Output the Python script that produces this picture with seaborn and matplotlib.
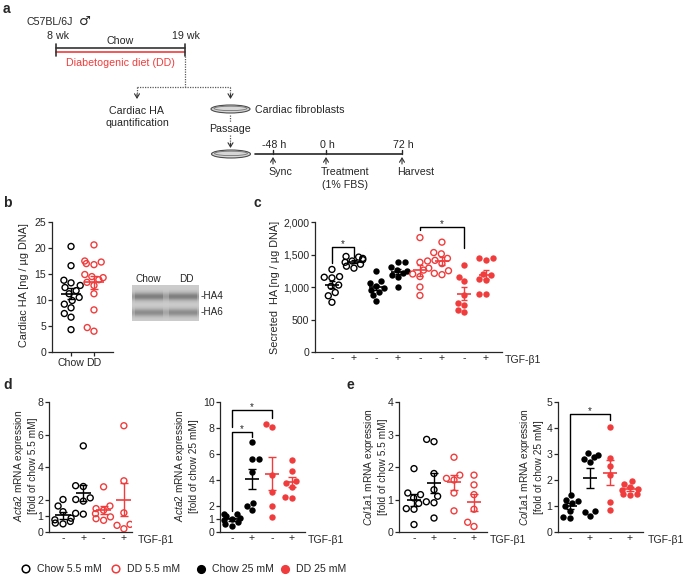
import matplotlib

matplotlib.use("Agg")
import matplotlib.pyplot as plt
import numpy as np
import pandas as pd
import seaborn as sns
from matplotlib.patches import Ellipse
from matplotlib.ticker import StrMethodFormatter

W, H = 685, 576
RED = "#f03c3c"

# b: cardiac HA content [ng / ug DNA]
HA_CHOW = [20.3, 16.6, 13.8, 13.3, 12.8, 12.4, 11.8, 11.2, 10.5, 9.9, 9.2, 8.5, 7.4, 6.7, 4.3]
HA_DD = [20.6, 17.5, 17.3, 17.0, 16.8, 14.9, 14.5, 14.3, 13.9, 13.4, 12.8, 11.2, 8.1, 4.7, 4.0]
HA_LABELS = ["Chow", "DD"]

# c: secreted HA [ng / ug DNA], order: chow 5.5 -/+, chow 25 -/+, DD 5.5 -/+, DD 25 -/+
SEC_CHOW55_CTRL = [1270, 1160, 1150, 1140, 1030, 1010, 915, 865, 765]
SEC_CHOW55_TGF = [1470, 1460, 1440, 1420, 1400, 1380, 1350, 1320, 1290]
SEC_CHOW25_CTRL = [1240, 1085, 1060, 1020, 990, 960, 930, 870, 780]
SEC_CHOW25_TGF = [1390, 1380, 1310, 1260, 1240, 1220, 1190, 1150, 1000]
SEC_DD55_CTRL = [1760, 1400, 1380, 1290, 1260, 1200, 1160, 1000, 870]
SEC_DD55_TGF = [1690, 1530, 1510, 1440, 1410, 1360, 1250, 1210, 1190]
SEC_DD25_CTRL = [1340, 1160, 1090, 880, 750, 720, 640, 610]
SEC_DD25_TGF = [1440, 1440, 1420, 1200, 1180, 1120, 1110, 900, 900]

# d: Acta2 mRNA
ACTA2_CHOW55_CTRL = [2.0, 1.6, 1.25, 0.85, 0.75, 0.65, 0.55, 0.5]
ACTA2_CHOW55_TGF = [5.3, 2.85, 2.8, 2.1, 2.0, 1.9, 1.15, 1.1]
ACTA2_DD55_CTRL = [2.78, 1.6, 1.44, 1.34, 1.13, 0.93, 0.82, 0.72]
ACTA2_DD55_TGF = [6.54, 3.15, 1.18, 0.47, 0.41, 0.2]
ACTA2_CHOW25_CTRL = [1.35, 1.35, 1.2, 1.1, 1.0, 0.9, 0.75, 0.6, 0.5]
ACTA2_CHOW25_TGF = [6.9, 5.6, 5.6, 4.6, 2.2, 2.0, 1.7]
ACTA2_DD25_CTRL = [8.05, 8.3, 4.4, 3.1, 2.0, 1.15]
ACTA2_DD25_TGF = [5.55, 4.7, 3.9, 3.75, 3.5, 2.7, 2.65]

# e: Col1a1 mRNA
COL_CHOW55_CTRL = [1.95, 1.2, 1.15, 1.05, 0.88, 0.72, 0.7, 0.23]
COL_CHOW55_TGF = [2.85, 2.78, 1.8, 1.3, 1.1, 0.93, 0.9, 0.43]
COL_DD55_CTRL = [2.3, 1.75, 1.65, 1.6, 1.2, 0.65]
COL_DD55_TGF = [1.75, 1.45, 1.15, 0.7, 0.3, 0.17]
COL_CHOW25_CTRL = [1.42, 1.25, 1.2, 1.1, 1.0, 0.82, 0.58, 0.54]
COL_CHOW25_TGF = [3.03, 2.95, 2.9, 2.8, 2.7, 0.8, 0.77, 0.62]
COL_DD25_CTRL = [4.05, 2.85, 2.55, 2.2, 1.17, 0.85]
COL_DD25_TGF = [1.97, 1.84, 1.74, 1.64, 1.6, 1.48, 1.46, 1.42]

PM_LABELS = ["-", "+", "-", "+"]
LEGEND_LABELS = ["Chow 5.5 mM", "DD 5.5 mM", "Chow 25 mM", "DD 25 mM"]

# (colour, hollow) per condition
CHOW55 = ("black", True)
DD55 = (RED, True)
CHOW25 = ("black", False)
DD25 = (RED, False)


def px_axes(fig, left, top, right, bottom):
    return fig.add_axes([left / W, 1 - bottom / H, (right - left) / W, (bottom - top) / H])


def dot_plot(ax, series, styles, hw, cap):
    names = [f"g{i}" for i in range(len(series))]
    df = pd.DataFrame({
        "group": np.repeat(names, [len(s) for s in series]),
        "value": np.concatenate(series),
    })
    for name, (color, hollow) in zip(names, styles):
        n_before = len(ax.collections)
        sns.swarmplot(
            data=df[df["group"] == name], x="group", y="value", order=names,
            color=color, edgecolor=color, linewidth=1.0 if hollow else 0,
            size=4.3 if hollow else 4.6, warn_thresh=1, ax=ax,
        )
        if hollow:
            for coll in ax.collections[n_before:]:
                coll.set_facecolor("none")
                coll.set_edgecolor(color)
    stats = df.groupby("group")["value"].agg(["mean", "sem"])
    for i, (name, (color, _)) in enumerate(zip(names, styles)):
        m, e = stats.loc[name, "mean"], stats.loc[name, "sem"]
        ax.errorbar(i, m, yerr=e, fmt="none", ecolor=color, elinewidth=1.0,
                    capsize=cap, capthick=1.0, zorder=6)
        ax.hlines(m, i - hw, i + hw, color=color, lw=1.2, zorder=6)


def style_axes(ax, xlim, ylim, yticks, xlabels, xtick_len=0):
    ax.set_xlim(*xlim)
    ax.set_ylim(*ylim)
    ax.set_yticks(yticks)
    ax.set_xticks(range(len(xlabels)), xlabels)
    ax.set_xlabel("")
    ax.set_ylabel("")
    ax.tick_params(axis="y", length=3, width=0.9, pad=1, labelsize=7.6)
    ax.tick_params(axis="x", length=xtick_len, width=0.9, pad=1.5 if xtick_len else 0.5,
                   labelsize=7.6)
    sns.despine(ax=ax)
    for side in ("left", "bottom"):
        ax.spines[side].set_linewidth(0.9)
    ax.patch.set_alpha(0)


def bracket(ax, x1, x2, top, bot1, bot2):
    ax.plot([x1, x1, x2, x2], [bot1, top, top, bot2], color="black", lw=1.0,
            clip_on=False, zorder=7)
    ax.text((x1 + x2) / 2, top, "*", ha="center", va="baseline", fontsize=7)


def arrow(cv, x, y1, y2):
    cv.annotate("", xy=(x, y2), xytext=(x, y1),
                arrowprops=dict(arrowstyle="->,head_length=0.3,head_width=0.18",
                                color="0.2", lw=0.8, shrinkA=0, shrinkB=0))


def dish(cv, x, y):
    cv.add_patch(Ellipse((x, y), 39, 8, fc="#d6d6d6", ec="0.3", lw=0.8))
    cv.add_patch(Ellipse((x, y - 0.6), 33, 4.4, fc="none", ec="0.45", lw=0.6))


def draw_schematic(cv):
    fs = 7.7
    cv.text(27, 22, "C57BL/6J", ha="left", va="center", fontsize=fs)
    cv.text(79, 21, "\u2642", ha="left", va="center", fontsize=9.5, family="DejaVu Sans")
    cv.text(58, 36, "8 wk", ha="center", va="center", fontsize=fs)
    cv.text(186, 36, "19 wk", ha="center", va="center", fontsize=fs)
    cv.text(120, 41, "Chow", ha="center", va="center", fontsize=fs)
    cv.plot([56, 185], [48.3, 48.3], color="0.2", lw=1.2)
    cv.plot([56, 185], [52.3, 52.3], color=RED, lw=1.2)
    for x in (56, 185):
        cv.plot([x, x], [44, 56], color="0.2", lw=1.2)
    cv.text(120, 63, "Diabetogenic diet (DD)", color=RED, ha="center", va="center", fontsize=fs)

    dot = dict(color="0.35", lw=0.9, ls=(0, (1, 1)))
    cv.plot([185.3, 185.3], [56, 87], **dot)
    cv.plot([137, 230.5], [87, 87], **dot)
    for x in (137, 230.5):
        cv.plot([x, x], [87, 95], **dot)
        arrow(cv, x, 94, 99)
    cv.text(137, 117, "Cardiac HA\nquantification", ha="center", va="center",
            fontsize=fs, linespacing=1.35)
    dish(cv, 230.5, 109)
    cv.text(255, 110, "Cardiac fibroblasts", ha="left", va="center", fontsize=fs)
    cv.plot([230.5, 230.5], [115, 122], **dot)
    cv.text(230.5, 129, "Passage", ha="center", va="center", fontsize=fs)
    cv.plot([230.5, 230.5], [135, 144], **dot)
    arrow(cv, 230.5, 143, 148)
    dish(cv, 231, 154)

    cv.plot([255, 402], [154, 154], color="0.15", lw=1.2)
    for x, lab in ((273, "-48 h"), (326, "0 h"), (402, "72 h")):
        cv.plot([x, x], [150, 154], color="0.15", lw=1.0)
        cv.text(x + 1, 145, lab, ha="center", va="center", fontsize=fs)
        arrow(cv, x, 164, 157)
    cv.text(268, 172, "Sync", ha="left", va="center", fontsize=fs)
    cv.text(321, 172, "Treatment", ha="left", va="center", fontsize=fs)
    cv.text(322, 185, "(1% FBS)", ha="left", va="center", fontsize=fs)
    cv.text(397, 172, "Harvest", ha="left", va="center", fontsize=fs)


def draw_blot(fig, cv):
    ax = px_axes(fig, 132, 285, 199, 321)
    rows = np.arange(36)[:, None]
    cols = np.arange(67)[None, :]
    bands = 0.3 * np.exp(-((rows - 11) / 4.0) ** 2) + 0.25 * np.exp(-((rows - 27) / 4.0) ** 2)
    lanes = np.where(((cols > 2) & (cols < 31)) | ((cols > 36) & (cols < 65)), 1.0, 0.6)
    ax.imshow(0.8 - bands * lanes, cmap="gray", vmin=0, vmax=1, aspect="auto",
              interpolation="bilinear")
    ax.set_axis_off()
    cv.text(148, 279, "Chow", ha="center", va="center", fontsize=7.2)
    cv.text(186, 279, "DD", ha="center", va="center", fontsize=7.2)
    cv.text(201, 296, "-HA4", ha="left", va="center", fontsize=7.2)
    cv.text(201, 312, "-HA6", ha="left", va="center", fontsize=7.2)


def main():
    sns.set_style("ticks")
    plt.rcParams["font.family"] = ["Liberation Sans", "DejaVu Sans"]
    plt.rcParams["mathtext.fontset"] = "custom"
    plt.rcParams["mathtext.rm"] = "Liberation Sans"
    plt.rcParams["mathtext.it"] = "Liberation Sans:italic"

    fig = plt.figure(figsize=(W / 100, H / 100), dpi=100)
    cv = fig.add_axes([0, 0, 1, 1])
    cv.set_xlim(0, W)
    cv.set_ylim(H, 0)
    cv.set_axis_off()

    # panel letters
    for x, y, lab in ((3, 2, "a"), (3, 196, "b"), (254, 196, "c"), (3, 378, "d"), (347, 378, "e")):
        cv.text(x, y, lab, ha="left", va="top", fontsize=10, fontweight="bold")

    draw_schematic(cv)

    # b
    ax_b = px_axes(fig, 52, 222, 113, 352)
    dot_plot(ax_b, [HA_CHOW, HA_DD], [CHOW55, DD55], hw=0.43, cap=3.2)
    style_axes(ax_b, (-0.83, 1.83), (0, 25), range(0, 26, 5), HA_LABELS, xtick_len=3)
    cv.text(24, 285, "Cardiac HA [ng / \u00b5g DNA]", rotation=90, ha="center", va="center",
            fontsize=7.8)
    draw_blot(fig, cv)

    # c
    ax_c = px_axes(fig, 315, 222, 502, 352)
    dot_plot(ax_c,
             [SEC_CHOW55_CTRL, SEC_CHOW55_TGF, SEC_CHOW25_CTRL, SEC_CHOW25_TGF,
              SEC_DD55_CTRL, SEC_DD55_TGF, SEC_DD25_CTRL, SEC_DD25_TGF],
             [CHOW55, CHOW55, CHOW25, CHOW25, DD55, DD55, DD25, DD25], hw=0.3, cap=2.4)
    style_axes(ax_c, (-0.77, 7.73), (0, 2000), range(0, 2001, 500), PM_LABELS * 2)
    ax_c.yaxis.set_major_formatter(StrMethodFormatter("{x:,.0f}"))
    bracket(ax_c, 0, 1, 1615, 1370, 1462)
    bracket(ax_c, 4, 6, 1923, 1877, 1600)
    cv.text(275, 287, "Secreted  HA [ng / \u00b5g DNA]", rotation=90, ha="center", va="center",
            fontsize=7.8)
    cv.text(505, 360, "TGF-\u03b21", ha="left", va="center", fontsize=7.6)

    # d
    ax_d1 = px_axes(fig, 49, 402, 132, 532)
    dot_plot(ax_d1, [ACTA2_CHOW55_CTRL, ACTA2_CHOW55_TGF, ACTA2_DD55_CTRL, ACTA2_DD55_TGF],
             [CHOW55, CHOW55, DD55, DD55], hw=0.37, cap=2.8)
    style_axes(ax_d1, (-0.69, 3.4), (0, 8), [0, 1, 2, 4, 6, 8], PM_LABELS)
    ax_d2 = px_axes(fig, 220, 402, 305, 532)
    dot_plot(ax_d2, [ACTA2_CHOW25_CTRL, ACTA2_CHOW25_TGF, ACTA2_DD25_CTRL, ACTA2_DD25_TGF],
             [CHOW25, CHOW25, DD25, DD25], hw=0.37, cap=2.8)
    style_axes(ax_d2, (-0.6, 3.65), (0, 10), [0, 1, 2, 4, 6, 8, 10], PM_LABELS)
    bracket(ax_d2, 0, 2, 9.38, 8.08, 8.77)
    bracket(ax_d2, 0, 1, 7.7, 1.6, 7.3)
    for x, tail in ((25, "5.5"), (186, "25")):
        cv.text(x, 466, "$\\mathit{Acta2}$ mRNA expression\n[fold of chow " + tail + " mM]",
                rotation=90, ha="center", va="center", fontsize=7.3)
    cv.text(138, 540, "TGF-\u03b21", ha="left", va="center", fontsize=7.6)
    cv.text(308, 540, "TGF-\u03b21", ha="left", va="center", fontsize=7.6)

    # e
    ax_e1 = px_axes(fig, 399, 402, 487, 532)
    dot_plot(ax_e1, [COL_CHOW55_CTRL, COL_CHOW55_TGF, COL_DD55_CTRL, COL_DD55_TGF],
             [CHOW55, CHOW55, DD55, DD55], hw=0.37, cap=2.8)
    style_axes(ax_e1, (-0.75, 3.65), (0, 4), [0, 1, 2, 3, 4], PM_LABELS)
    ax_e2 = px_axes(fig, 558, 402, 643, 532)
    dot_plot(ax_e2, [COL_CHOW25_CTRL, COL_CHOW25_TGF, COL_DD25_CTRL, COL_DD25_TGF],
             [CHOW25, CHOW25, DD25, DD25], hw=0.37, cap=2.8)
    style_axes(ax_e2, (-0.6, 3.65), (0, 5), [0, 1, 2, 3, 4, 5], PM_LABELS)
    bracket(ax_e2, 0, 2, 4.54, 1.54, 4.3)
    for x, tail in ((375, "5.5"), (531, "25")):
        cv.text(x, 467, "$\\mathit{Col1a1}$ mRNA expression\n[fold of chow " + tail + " mM]",
                rotation=90, ha="center", va="center", fontsize=7.3)
    cv.text(490, 540, "TGF-\u03b21", ha="left", va="center", fontsize=7.6)
    cv.text(648, 540, "TGF-\u03b21", ha="left", va="center", fontsize=7.6)

    # legend
    for x, (color, hollow), lab in zip((26, 116, 201, 285), (CHOW55, DD55, CHOW25, DD25),
                                       LEGEND_LABELS):
        cv.scatter([x], [569], s=30, marker="o", linewidths=1.1,
                   facecolors="none" if hollow else color, edgecolors=color)
        cv.text(x + 11, 569, lab, ha="left", va="center", fontsize=7.6)

    fig.savefig("out.png", dpi=100)
    plt.close(fig)


if __name__ == "__main__":
    main()
